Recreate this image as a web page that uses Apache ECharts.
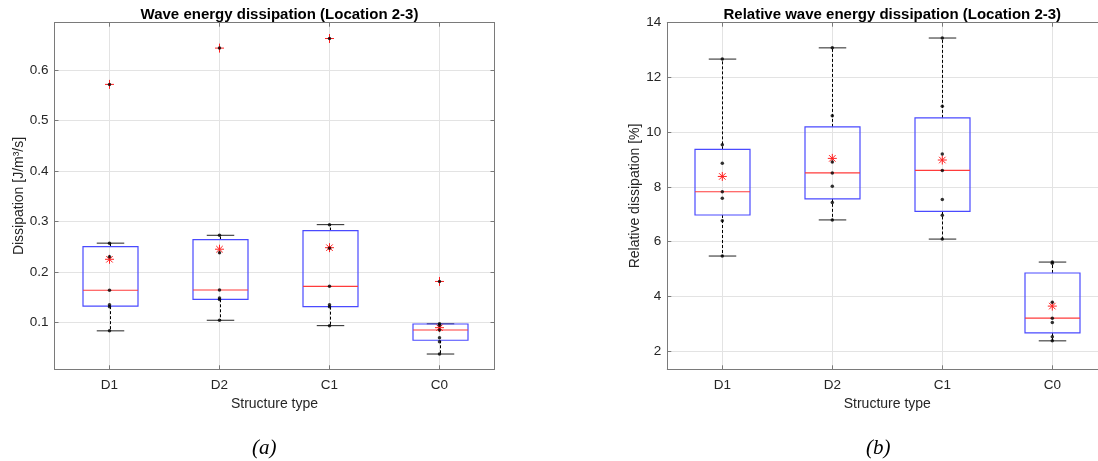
<!DOCTYPE html>
<html><head><meta charset="utf-8">
<script src="https://cdn.jsdelivr.net/npm/echarts/dist/echarts.min.js"></script>
<style>html,body{margin:0;padding:0;background:#fff}#c{width:1098px;height:461px}</style>
</head><body><div id="c"></div>
<script>
const categories = ['D1', 'D2', 'C1', 'C0'];

// Left panel: wave energy dissipation [J/m^3/s]
// [lower whisker, Q1, median, Q3, upper whisker]
const leftBoxStats = [
  [0.083, 0.132, 0.1635, 0.250, 0.257],
  [0.104, 0.1456, 0.164, 0.264, 0.2726],
  [0.0933, 0.131, 0.1714, 0.282, 0.2937],
  [0.037, 0.0643, 0.0847, 0.0966, 0.097]
];
const leftPoints = [
  [0.083, 0.131, 0.135, 0.1635, 0.230, 0.257, 0.572],
  [0.104, 0.145, 0.148, 0.164, 0.238, 0.2726, 0.644],
  [0.0933, 0.131, 0.135, 0.1714, 0.247, 0.2937, 0.663],
  [0.037, 0.0615, 0.0695, 0.0847, 0.094, 0.097, 0.181]
];
const leftOutliers = [[0.572], [0.644], [0.663], [0.181]];
const leftMeans = [0.225, 0.245, 0.248, 0.0893];

// Right panel: relative wave energy dissipation [%]
const rightBoxStats = [
  [5.47, 6.97, 7.82, 9.37, 12.67],
  [6.79, 7.56, 8.51, 10.19, 13.08],
  [6.09, 7.10, 8.60, 10.52, 13.44],
  [2.37, 2.66, 3.20, 4.85, 5.25]
];
const rightPoints = [
  [5.47, 6.76, 7.58, 7.82, 8.86, 9.54, 12.67],
  [6.79, 7.43, 8.02, 8.51, 8.91, 10.6, 13.08],
  [6.09, 6.96, 7.54, 8.60, 9.20, 10.95, 13.44],
  [2.37, 2.52, 3.04, 3.20, 3.78, 5.21, 5.25]
];
const rightOutliers = [[], [], [], []];
const rightMeans = [8.38, 9.04, 8.98, 3.64];

const leftTicks = [0.1, 0.2, 0.3, 0.4, 0.5, 0.6];
const rightTicks = [2, 4, 6, 8, 10, 12, 14];
const leftRange = [0.0067, 0.6944];
const rightRange = [1.33, 14];

const FONT = 'Liberation Sans';
const AX = '#7a7a7a';
const TXT = '#262626';
const GRIDC = '#e3e3e3';

const chart = echarts.init(document.getElementById('c'), null, {renderer: 'canvas'});

function renderBox(params, api) {
  const x = api.value(0);
  const lo = api.coord([x, api.value(1)]);
  const q1 = api.coord([x, api.value(2)]);
  const md = api.coord([x, api.value(3)]);
  const q3 = api.coord([x, api.value(4)]);
  const hi = api.coord([x, api.value(5)]);
  const band = api.size([1, 0])[0];
  const bw = band * 0.5, cw = band * 0.25;
  const cx = Math.round(md[0]) + 0.5;
  const dash = {stroke: '#000', lineWidth: 1, lineDash: [3, 2]};
  const cap = {stroke: '#222', lineWidth: 1};
  return {type: 'group', children: [
    {type: 'line', shape: {x1: cx, y1: q3[1], x2: cx, y2: hi[1]}, style: dash},
    {type: 'line', shape: {x1: cx, y1: q1[1], x2: cx, y2: lo[1]}, style: dash},
    {type: 'line', shape: {x1: cx - cw / 2, y1: hi[1], x2: cx + cw / 2, y2: hi[1]}, style: cap},
    {type: 'line', shape: {x1: cx - cw / 2, y1: lo[1], x2: cx + cw / 2, y2: lo[1]}, style: cap},
    {type: 'rect', shape: {x: cx - bw / 2, y: q3[1], width: bw, height: q1[1] - q3[1]},
      style: {fill: 'none', stroke: '#4a4aff', lineWidth: 1.2}},
    {type: 'line', shape: {x1: cx - bw / 2, y1: md[1], x2: cx + bw / 2, y2: md[1]},
      style: {stroke: '#ff3b3b', lineWidth: 1.2}}
  ]};
}

function renderPlus(params, api) {
  const p = api.coord([api.value(0), api.value(1)]);
  const r = 4.5;
  const st = {stroke: '#ff2020', lineWidth: 1};
  return {type: 'group', children: [
    {type: 'line', shape: {x1: p[0] - r, y1: p[1], x2: p[0] + r, y2: p[1]}, style: st},
    {type: 'line', shape: {x1: p[0], y1: p[1] - r, x2: p[0], y2: p[1] + r}, style: st}
  ]};
}

function renderStar(params, api) {
  const p = api.coord([api.value(0), api.value(1)]);
  const r = 4.5, d = r * 0.72;
  const st = {stroke: '#ff2020', lineWidth: 1};
  return {type: 'group', children: [
    {type: 'line', shape: {x1: p[0] - r, y1: p[1], x2: p[0] + r, y2: p[1]}, style: st},
    {type: 'line', shape: {x1: p[0], y1: p[1] - r, x2: p[0], y2: p[1] + r}, style: st},
    {type: 'line', shape: {x1: p[0] - d, y1: p[1] - d, x2: p[0] + d, y2: p[1] + d}, style: st},
    {type: 'line', shape: {x1: p[0] - d, y1: p[1] + d, x2: p[0] + d, y2: p[1] - d}, style: st}
  ]};
}

function boxData(stats) { return stats.map((s, i) => [i].concat(s)); }
function flatPts(arr) {
  const out = [];
  arr.forEach((vals, i) => vals.forEach(v => out.push([i, v])));
  return out;
}
function meanData(m) { return m.map((v, i) => [i, v]); }

function xAxes(gi, bottom) {
  return {
    type: 'category', data: categories, gridIndex: gi,
    position: bottom ? 'bottom' : 'top',
    boundaryGap: true,
    name: bottom ? 'Structure type' : '', nameLocation: 'middle', nameGap: 26,
    nameTextStyle: {fontFamily: FONT, fontSize: 14, color: TXT},
    axisLine: {show: true, onZero: false, lineStyle: {color: AX, width: 1}},
    axisTick: {show: true, inside: true, alignWithLabel: true, length: 4, lineStyle: {color: AX}},
    axisLabel: {show: bottom, fontFamily: FONT, fontSize: 13.5, color: TXT, margin: 9},
    splitLine: {show: bottom, alignWithLabel: true, lineStyle: {color: GRIDC, width: 1}}
  };
}
function yAxes(gi, left, range, step, name, fmt, nameGap, showMax) {
  return {
    type: 'value', gridIndex: gi, position: left ? 'left' : 'right',
    min: range[0], max: range[1], splitNumber: 7, minInterval: step, maxInterval: step,
    name: left ? name : '', nameLocation: 'middle', nameGap: nameGap,
    nameTextStyle: {fontFamily: FONT, fontSize: 14, color: TXT},
    axisLine: {show: true, onZero: false, lineStyle: {color: AX, width: 1}},
    axisTick: {show: true, inside: true, length: 4, lineStyle: {color: AX}},
    axisLabel: {show: left, fontFamily: FONT, fontSize: 13.5, color: TXT, margin: 6,
      showMinLabel: false, showMaxLabel: showMax, formatter: fmt},
    splitLine: {show: left, lineStyle: {color: GRIDC, width: 1}}
  };
}

const leftFmt = v => v.toFixed(1);
const rightFmt = v => String(Math.round(v));

const option = {
  animation: false,
  backgroundColor: '#fff',
  title: [
    {text: 'Wave energy dissipation (Location 2-3)', left: 274.5, top: 2, textAlign: 'center',
      textStyle: {fontFamily: FONT, fontSize: 15, fontWeight: 'bold', color: '#000'}},
    {text: 'Relative wave energy dissipation (Location 2-3)', left: 887.3, top: 2, textAlign: 'center',
      textStyle: {fontFamily: FONT, fontSize: 15, fontWeight: 'bold', color: '#000'}}
  ],
  grid: [
    {left: 54.5, top: 22.7, width: 440, height: 346.6, containLabel: false, outerBoundsMode: 'none'},
    {left: 667.3, top: 22.7, width: 440, height: 346.6, containLabel: false, outerBoundsMode: 'none'}
  ],
  xAxis: [xAxes(0, true), xAxes(0, false), xAxes(1, true), xAxes(1, false)],
  yAxis: [
    yAxes(0, true, leftRange, 0.1, 'Dissipation [J/m³/s]', leftFmt, 27, false),
    yAxes(0, false, leftRange, 0.1, '', leftFmt, 27, false),
    yAxes(1, true, rightRange, 2, 'Relative dissipation [%]', rightFmt, 25, true),
    yAxes(1, false, rightRange, 2, '', rightFmt, 25, true)
  ],
  graphic: [
    {type: 'text', left: 252, top: 438, style: {text: '(a)', font: 'italic 21px "Liberation Serif"', fill: '#000'}},
    {type: 'text', left: 866, top: 438, style: {text: '(b)', font: 'italic 21px "Liberation Serif"', fill: '#000'}}
  ],
  series: [
    {type: 'custom', xAxisIndex: 0, yAxisIndex: 0, renderItem: renderBox, data: boxData(leftBoxStats),
      encode: {x: 0, y: [1, 2, 3, 4, 5]}, z: 3, clip: false},
    {type: 'custom', xAxisIndex: 0, yAxisIndex: 0, renderItem: renderPlus, data: flatPts(leftOutliers),
      encode: {x: 0, y: 1}, z: 4},
    {type: 'custom', xAxisIndex: 0, yAxisIndex: 0, renderItem: renderStar, data: meanData(leftMeans),
      encode: {x: 0, y: 1}, z: 4},
    {type: 'scatter', xAxisIndex: 0, yAxisIndex: 0, data: flatPts(leftPoints), symbol: 'circle',
      symbolSize: 3.5, itemStyle: {color: '#000'}, z: 5},

    {type: 'custom', xAxisIndex: 2, yAxisIndex: 2, renderItem: renderBox, data: boxData(rightBoxStats),
      encode: {x: 0, y: [1, 2, 3, 4, 5]}, z: 3, clip: false},
    {type: 'custom', xAxisIndex: 2, yAxisIndex: 2, renderItem: renderPlus, data: flatPts(rightOutliers),
      encode: {x: 0, y: 1}, z: 4},
    {type: 'custom', xAxisIndex: 2, yAxisIndex: 2, renderItem: renderStar, data: meanData(rightMeans),
      encode: {x: 0, y: 1}, z: 4},
    {type: 'scatter', xAxisIndex: 2, yAxisIndex: 2, data: flatPts(rightPoints), symbol: 'circle',
      symbolSize: 3.5, itemStyle: {color: '#000'}, z: 5}
  ]
};
chart.setOption(option);
</script></body></html>
